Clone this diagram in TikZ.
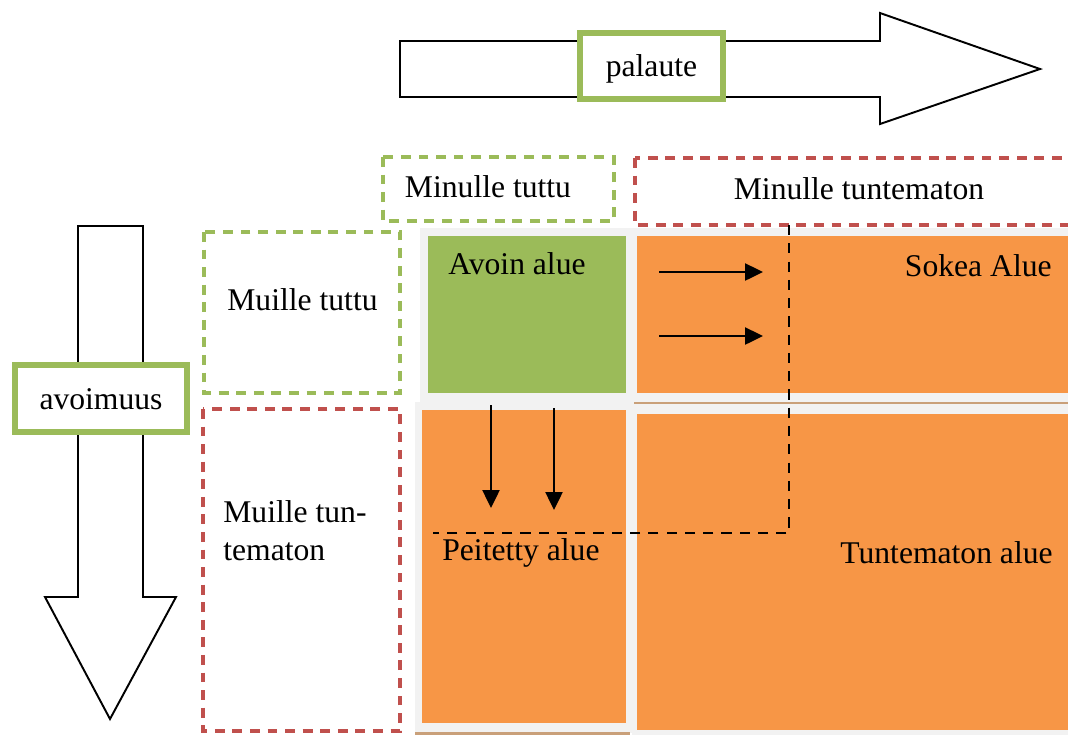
\documentclass[tikz,border=0pt]{standalone}
\usepackage{fontspec}
\setmainfont{Liberation Serif}
\usetikzlibrary{arrows.meta}
\definecolor{okgreen}{HTML}{9BBB59}
\definecolor{warmorange}{HTML}{F79646}
\definecolor{panegray}{HTML}{F2F2F2}
\definecolor{dashred}{HTML}{C0504D}
\definecolor{edgebrown}{HTML}{C9A07A}
\tikzset{
  lbl/.style={font=\fontsize{18}{21.5}\selectfont, inner sep=0pt},
  headbox/.style={line width=2pt, dash pattern=on 5.6pt off 4.4pt},
  greenhead/.style={headbox, draw=okgreen},
  redhead/.style={headbox, draw=dashred},
  tagbox/.style={draw=okgreen, line width=3.4pt, fill=white, lbl, text height=12.4pt, text depth=0pt},
  blockarrow/.style={draw=black, line width=1.1pt, fill=white, line join=miter},
  flow/.style={line width=1.4pt, -{Triangle[length=0.36cm,width=0.34cm]}},
  boundary/.style={line width=1.6pt, dash pattern=on 5.8pt off 4.6pt},
  pane/.style={fill=panegray},
  edgeline/.style={draw=edgebrown, line width=1.4pt},
}
\begin{document}
\begin{tikzpicture}[x=0.02cm, y=-0.02cm]
  \useasboundingbox (0,0) rectangle (1068,735);
  \clip (0,0) rectangle (1068,735);

  % feedback arrow (palaute)
  \draw[blockarrow] (400,41) -- (880,41) -- (880,13) -- (1040,69) -- (880,124) -- (880,97) -- (400,97) -- cycle;
  \node[tagbox, minimum width=2.86cm, minimum height=1.32cm] (palaute) at (651.5,66) {palaute};

  % openness arrow (avoimuus)
  \draw[blockarrow] (78,226) -- (143,226) -- (143,597) -- (176,597) -- (110,719) -- (45,597) -- (78,597) -- cycle;
  \node[tagbox, minimum width=3.44cm, minimum height=1.34cm] (avoimuus) at (101,398.5) {avoimuus};

  % column headers
  \draw[greenhead] (383,157) rectangle (614,221);
  \node[lbl, anchor=base] (colknown) at (488,197) {Minulle tuttu};
  \draw[redhead] (635,158) rectangle (1080,225);
  \node[lbl, anchor=base] (colunknown) at (859,199) {Minulle tuntematon};

  % row headers
  \draw[greenhead] (204,232) rectangle (400,393);
  \node[lbl, anchor=base west] (rowknown) at (227,310) {Muille tuttu};
  \draw[redhead] (203,409) rectangle (400,731);
  \node[lbl, anchor=north west, align=left] (rowunknown) at (223,500) {Muille tun-\\tematon};

  % window panes
  \fill[pane] (420,228) rectangle (634,402);
  \fill[pane] (415,402) rectangle (634,733);
  \fill[pane] (632,228) rectangle (1068,735);
  \draw[edgeline] (634,403) -- (1068,403);
  \draw[edgeline] (415,733.5) -- (630,733.5);

  \fill[okgreen] (428,236) rectangle (626,393);
  \fill[warmorange] (637,236) rectangle (1068,393);
  \fill[warmorange] (422,410) rectangle (626,723);
  \fill[warmorange] (637,414) rectangle (1068,730);

  \node[lbl, anchor=base west] (open) at (448,274) {Avoin alue};
  \node[lbl, anchor=base east] (blind) at (1052,276) {Sokea Alue};
  \node[lbl, anchor=base west] (hidden) at (442,560) {Peitetty alue};
  \node[lbl, anchor=base east] (unknown) at (1053,563) {Tuntematon alue};

  % growth of the open area
  \coordinate (r1s) at (659,272); \coordinate (r1e) at (763,272);
  \coordinate (r2s) at (659,336); \coordinate (r2e) at (763,336);
  \coordinate (d1s) at (491,405); \coordinate (d1e) at (491,508);
  \coordinate (d2s) at (554,408); \coordinate (d2e) at (554,510);
  \draw[flow] (r1s) -- (r1e);
  \draw[flow] (r2s) -- (r2e);
  \draw[flow] (d1s) -- (d1e);
  \draw[flow] (d2s) -- (d2e);

  \coordinate (bTop) at (789,225);
  \coordinate (bCorner) at (789,533);
  \coordinate (bEnd) at (433,533);
  \draw[boundary] (bTop) -- (bCorner) -- (bEnd);
\end{tikzpicture}
\end{document}
